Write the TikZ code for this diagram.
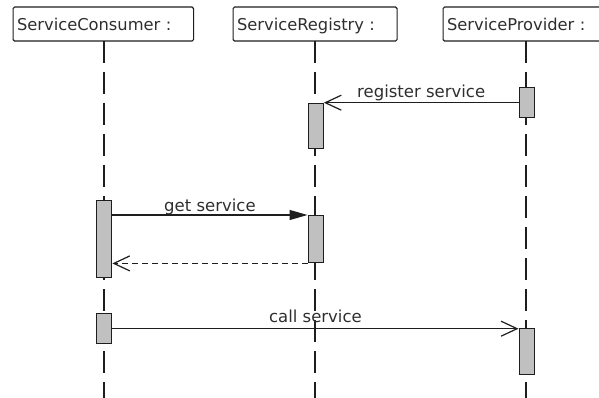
\documentclass[tikz,border=0pt]{standalone}
\usepackage{fontspec}
\setmainfont{DejaVu Sans}
\usetikzlibrary{arrows.meta}
\definecolor{inkcol}{HTML}{1E1E1E}
\definecolor{txtcol}{HTML}{2E2E2E}
\definecolor{actgray}{HTML}{C0C0C0}
\begin{document}
\begin{tikzpicture}[x=1pt,y=-1pt,
  every node/.style={text=txtcol},
  head/.style={draw=inkcol, line width=1.1pt, rounded corners=1.5pt, anchor=north west,
    minimum height=34pt, inner xsep=4pt, inner ysep=0pt, text height=12pt, text depth=0pt,
    align=left, font=\fontsize{16.3}{20}\selectfont},
  lifeline/.style={draw=inkcol, line width=1.25pt, dash pattern=on 22pt off 9pt},
  act/.style={draw=inkcol, fill=actgray, line width=1.4pt, minimum width=15pt,
    inner sep=0pt, anchor=north west},
  msg/.style={draw=inkcol, line width=1.2pt},
  openhead/.style={-{Straight Barb[length=16pt,width=15pt,line width=1.2pt]}},
  fullhead/.style={-{Triangle[length=18pt,width=10pt]}},
  lbl/.style={midway, anchor=base, inner sep=0pt, font=\fontsize{16.5}{20}\selectfont}]

\useasboundingbox (0,0) rectangle (599,398);

% object headers
\node[head, text width=172.5pt] (cons) at (12.5,6.5) {ServiceConsumer :};
\node[head, text width=156pt]   (reg)  at (232.5,6.5) {ServiceRegistry :};
\node[head, text width=150pt]   (prov) at (442.5,6.5) {ServiceProvider :};

% lifelines
\coordinate (cTop) at (104,41);  \coordinate (cBot) at (104,398);
\coordinate (rTop) at (315,41);  \coordinate (rBot) at (315,398);
\coordinate (pTop) at (526,41);  \coordinate (pBot) at (526,398);
\draw[lifeline] (cTop) -- (cBot);
\draw[lifeline] (rTop) -- (rBot);
\draw[lifeline] (pTop) -- (pBot);

% activation bars
\node[act, minimum height=30pt] (p1) at (518.5,87) {};
\node[act, minimum height=45pt] (r1) at (307.5,103) {};
\node[act, minimum height=77pt] (c1) at (96,200) {};
\node[act, minimum height=47pt] (r2) at (307.5,215) {};
\node[act, minimum height=30pt] (c2) at (96,313) {};
\node[act, minimum height=46pt] (p2) at (518.5,328) {};

% messages
\draw[msg, openhead] (p1.west) -- (p1.west -| r1.east)
  node[lbl, yshift=5pt] {register service};
\draw[msg, fullhead] (c1.east |- r2.north) -- (r2.north west)
  node[lbl, yshift=4pt] {get service};
\draw[msg, openhead, dash pattern=on 6pt off 4pt] (r2.south west) -- (r2.south west -| c1.east);
\draw[msg, openhead] (c2.east) -- (c2.east -| p2.west)
  node[lbl, yshift=6pt] {call service};
\end{tikzpicture}
\end{document}
